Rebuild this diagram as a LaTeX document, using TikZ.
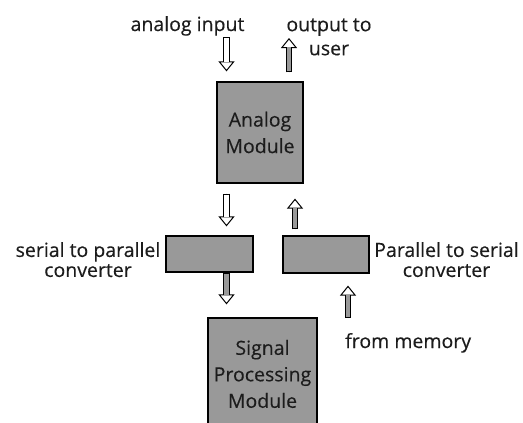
\documentclass[tikz,border=0pt]{standalone}
\usepackage{fontspec}
\setmainfont{Open Sans}[FakeBold=0.25,AutoFakeBold=0]
\usetikzlibrary{arrows.meta}
\definecolor{boxgray}{RGB}{153,153,153}
\definecolor{inkgray}{RGB}{28,28,28}

\begin{document}
\begin{tikzpicture}[x=1pt,y=-1pt,
  every node/.style={font=\fontsize{19.5}{26.5}\selectfont, text=inkgray, inner sep=0pt},
  block/.style={draw=black, line width=1.2pt, fill=boxgray, align=center},
  % block arrow: outlined shaft (filled with #1) and a white outlined head
  flow/.style={line width=1pt, draw=black,
    -{Triangle[width=16pt,length=10pt,fill=white]},
    postaction={draw=black, -, line width=6.4pt, shorten >=9.5pt},
    postaction={draw=#1, -, line width=4.4pt, shorten >=9pt, shorten <=1pt}},
  flow/.default=white]

  % page
  \fill[white] (0,0) rectangle (523,423);
  \useasboundingbox (0,0) rectangle (523,423);

  % modules
  \node[block, minimum width=86pt, minimum height=101pt] (analog) at (260,132.5) {Analog\\Module};
  \node[block, minimum width=87pt, minimum height=36pt] (s2p) at (209.5,254) {};
  \node[block, minimum width=86pt, minimum height=37pt] (p2s) at (326,254.5) {};
  \begin{scope}
    \clip (0,0) rectangle (523,423);
    \node[block, minimum width=109pt, minimum height=112pt] (dsp) at (262.5,374) {Signal\\Processing\\Module};
  \end{scope}

  % arrow columns and free ends
  \coordinate (inTail) at (226.5,37);
  \coordinate (outTip) at (289,38);
  \coordinate (retX) at (295,0);
  \coordinate (memTail) at (348,318);

  % connectors
  \draw[flow] (inTail) -- ([yshift=10pt]analog.north -| inTail);
  \draw[flow=boxgray] ([yshift=9pt]analog.north -| outTip) -- (outTip);
  \draw[flow] ([yshift=-10pt]analog.south -| inTail) -- ([yshift=9pt]s2p.north -| inTail);
  \draw[flow=boxgray] ([yshift=6pt]p2s.north -| retX) -- ([yshift=-15pt]analog.south -| retX);
  \draw[flow=boxgray] (s2p.south -| inTail) -- ([yshift=13pt]dsp.north -| inTail);
  \draw[flow=boxgray] (memTail) -- ([yshift=-12pt]p2s.south -| memTail);

  % labels
  \node[anchor=base] (lblIn) at (187.5,31) {analog input};
  \node[align=center, font=\fontsize{19.5}{24}\selectfont] (lblOut) at (329,36.9) {output to\\user};
  \node[align=center, font=\fontsize{19.5}{20}\selectfont] (lblS2P) at (88,259.6) {serial to parallel\\converter};
  \node[align=center, font=\fontsize{19.5}{20}\selectfont] (lblP2S) at (446.5,259.6) {Parallel to serial\\converter};
  \node[anchor=base west] (lblMem) at (345,348) {from memory};
\end{tikzpicture}
\end{document}
